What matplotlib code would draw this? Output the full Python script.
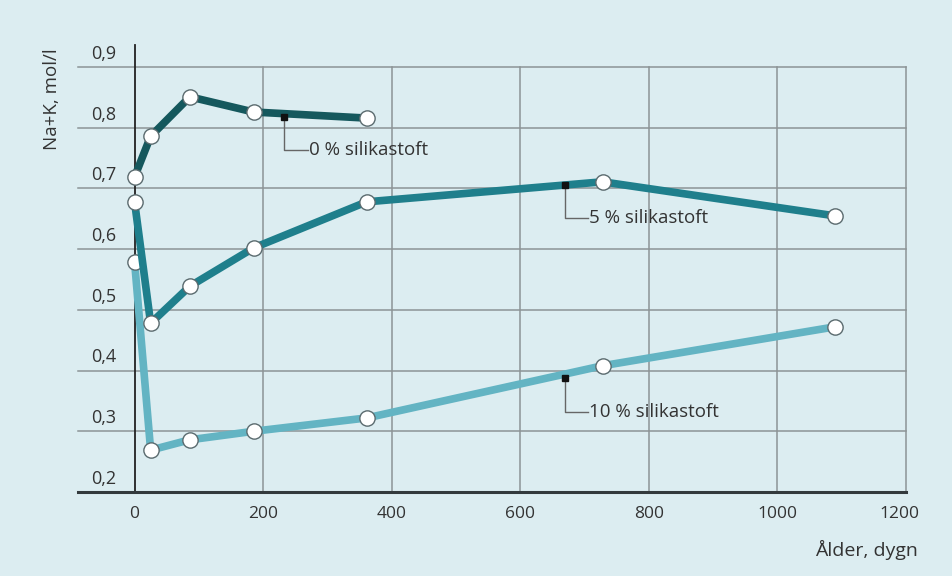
import matplotlib
matplotlib.use("Agg")
import matplotlib.pyplot as plt

# Data
days_0 = [0, 25, 86, 185, 361]
vals_0 = [0.719, 0.786, 0.851, 0.826, 0.816]
days_5 = [0, 25, 86, 185, 361, 728, 1089]
vals_5 = [0.678, 0.478, 0.539, 0.602, 0.678, 0.711, 0.655]
days_10 = [0, 25, 86, 185, 361, 728, 1089]
vals_10 = [0.579, 0.269, 0.286, 0.300, 0.322, 0.408, 0.472]
series_labels = ["0 % silikastoft", "5 % silikastoft", "10 % silikastoft"]
x_ticks = [0, 200, 400, 600, 800, 1000, 1200]
y_ticks = [0.2, 0.3, 0.4, 0.5, 0.6, 0.7, 0.8, 0.9]
y_tick_labels = ["0,2", "0,3", "0,4", "0,5", "0,6", "0,7", "0,8", "0,9"]

plt.rcParams['font.family'] = ['Open Sans', 'DejaVu Sans']

bg = '#dcedf1'
fig = plt.figure(figsize=(9.52, 5.76), dpi=100, facecolor=bg)
ax = fig.add_axes([78/952, 1-492/576, (906-78)/952, (492-45)/576])
ax.set_facecolor(bg)
xmin, xmax = -88, 1200
ymin, ymax = 0.2, 0.9364
ax.set_xlim(xmin, xmax)
ax.set_ylim(ymin, ymax)
for s in ax.spines.values():
    s.set_visible(False)
ax.set_xticks([])
ax.set_yticks([])

grid_c = '#8c9496'
for v in y_ticks[1:]:
    ax.plot([xmin, xmax], [v, v], color=grid_c, lw=1.1, zorder=1, clip_on=False)
for t in x_ticks[1:]:
    ax.plot([t, t], [ymin, 0.9], color=grid_c, lw=1.1, zorder=1, clip_on=False)
ax.plot([0, 0], [ymin, ymax], color='#222222', lw=1.3, zorder=2, clip_on=False)
ax.plot([xmin, xmax], [ymin, ymin], color='#333a3d', lw=2.2, zorder=2, clip_on=False)

tc = '#333333'
# tick labels
for v, lab in zip(y_ticks, y_tick_labels):
    ax.annotate(lab, xy=(0, v), xycoords=('axes fraction', 'data'),
                xytext=(27.5, 3), textcoords='offset points', ha='right', va='bottom',
                fontsize=13, color=tc)
for t in x_ticks:
    ax.annotate(str(t), xy=(t, ymin), xycoords='data', xytext=(-5 if t == 1200 else 0, -10),
                textcoords='offset points', ha='center', va='top', fontsize=12.5, color=tc)

fig.text(918/952, 1-550/576, "Ålder, dygn", ha='right', va='center', fontsize=14, color=tc)
fig.text(52/952, 1-99/576, "Na+K, mol/l", ha='center', va='center', rotation=90,
         fontsize=13.5, color=tc)

colors = ['#15585d', '#1f7f8c', '#63b4c3']
mk = dict(marker='o', markersize=11, markerfacecolor='white', markeredgecolor='#5a6a6e',
          markeredgewidth=1.0)
ax.plot(days_10, vals_10, color=colors[2], lw=5.5, zorder=3, clip_on=False, **mk)
ax.plot(days_5, vals_5, color=colors[1], lw=5.5, zorder=4, clip_on=False, **mk)
ax.plot(days_0, vals_0, color=colors[0], lw=5.5, zorder=5, clip_on=False, **mk)

# annotations
ann = [(233, 0.818, 0.763, series_labels[0]),
       (669, 0.705, 0.651, series_labels[1]),
       (669, 0.387, 0.332, series_labels[2])]
for x, y, ty, lab in ann:
    ax.plot([x, x, x + 36], [y, ty, ty], color='#666666', lw=1.0, zorder=6)
    ax.plot([x], [y], marker='s', markersize=4.5, color='#111111', zorder=7)
    ax.text(x + 38, ty, lab, ha='left', va='center', fontsize=13.5, color=tc, zorder=7)

fig.savefig('out.png', dpi=100, facecolor=bg)
